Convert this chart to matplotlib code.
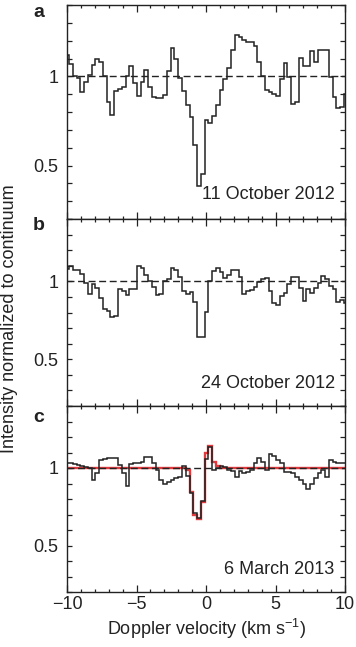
import numpy as np
import matplotlib
matplotlib.use("Agg")
import matplotlib.pyplot as plt
from matplotlib.ticker import MultipleLocator, FixedLocator

plt.rcParams['font.family'] = ['Liberation Sans', 'DejaVu Sans']
plt.rcParams['axes.unicode_minus'] = True

# velocity bin grid (km/s)
bin_start = -10.127
bin_width = 0.271
n_bins = 75
v_edges = bin_start + bin_width * np.arange(n_bins + 1)

panel_letters = ["a", "b", "c"]
dates = ["11 October 2012", "24 October 2012", "6 March 2013"]

spec_a = [1.12, 1.07, 1.00, 0.99, 0.91, 0.97, 1.01, 1.065, 1.10, 1.08, 1.00,
          0.855, 0.785, 0.92, 0.93, 0.94, 1.00, 1.06, 0.965, 0.89, 0.97,
          1.035, 0.94, 0.885, 0.88, 0.88, 0.895, 1.03, 1.16, 1.10, 0.99,
          0.92, 0.84, 0.77, 0.615, 0.385, 0.45, 0.757, 0.74, 0.78, 0.84,
          0.925, 0.985, 1.047, 1.145, 1.232, 1.22, 1.205, 1.195, 1.195, 1.17,
          1.08, 1.00, 0.925, 0.91, 0.90, 0.89, 0.985, 1.075, 0.995, 0.845,
          0.855, 1.105, 1.06, 1.06, 1.14, 1.08, 1.145, 1.15, 1.15, 0.995,
          0.885, 0.82, 0.83, 0.90]

spec_b = [1.08, 1.10, 1.07, 1.07, 1.045, 0.99, 0.92, 0.985, 0.955, 0.89, 0.82,
          0.81, 0.77, 0.78, 0.95, 0.935, 0.915, 0.95, 0.95, 1.10, 1.085,
          1.04, 1.00, 0.965, 0.91, 0.92, 1.00, 1.015, 1.085, 1.075, 1.03,
          0.935, 0.92, 0.93, 0.87, 0.64, 0.64, 0.806, 1.00, 1.065, 1.086,
          1.06, 1.02, 1.043, 1.07, 1.07, 1.03, 0.92, 0.935, 0.946, 0.963,
          0.996, 1.015, 1.02, 0.935, 0.86, 0.845, 0.903, 0.925, 0.98, 1.03,
          1.03, 0.96, 0.875, 0.95, 0.925, 0.96, 0.99, 1.035, 1.015, 0.97,
          0.95, 0.87, 0.88, 0.86]

spec_c = [1.03, 1.03, 1.024, 1.02, 1.013, 1.005, 1.00, 0.923, 0.966, 1.05, 1.055,
          1.062, 1.067, 1.067, 1.02, 0.97, 0.884, 1.024, 1.03, 1.034, 1.037,
          1.073, 1.07, 1.03, 0.987, 0.923, 0.90, 0.91, 0.92, 0.937, 0.944,
          1.01, 0.95, 0.84, 0.71, 0.675, 0.79, 1.06, 1.135, 0.99, 1.00,
          1.01, 1.005, 0.99, 0.983, 0.94, 0.983, 0.966, 0.976, 0.99, 1.03,
          1.062, 1.04, 0.987, 1.09, 1.077, 1.05, 1.03, 0.976, 0.972, 0.966,
          0.944, 0.923, 0.90, 0.865, 0.90, 0.933, 0.966, 0.99, 0.944, 1.05,
          1.04, 1.03, 1.03, 1.03]

model_c = [1.0, 1.0, 1.0, 1.0, 1.0, 1.0, 1.0, 1.0, 1.0, 1.0, 1.0,
           1.0, 1.0, 1.0, 1.0, 1.0, 1.0, 1.0, 1.0, 1.0, 1.0,
           1.0, 1.0, 1.0, 1.0, 1.0, 1.0, 1.0, 1.0, 1.0, 1.0,
           1.0, 0.987, 0.847, 0.70, 0.67, 0.78, 1.10, 1.142, 1.04, 1.015,
           1.0, 1.0, 1.0, 1.0, 1.0, 1.0, 1.0, 1.0, 1.0, 1.0,
           1.0, 1.0, 1.0, 1.0, 1.0, 1.0, 1.0, 1.0, 1.0, 1.0,
           1.0, 1.0, 1.0, 1.0, 1.0, 1.0, 1.0, 1.0, 1.0, 1.0,
           1.0, 1.0, 1.0, 1.0]

spectra = [spec_a, spec_b, spec_c]

W, H = 356, 647
fig = plt.figure(figsize=(W / 100, H / 100), dpi=100)

# axes boxes in pixels: (top, bottom)
boxes = [(5, 219), (219, 406), (406, 592)]
left_px, right_px = 67, 345
letter_baselines = [17, 230, 422]

ink = '#222222'
red = '#e03a3e'
fs = 13

axes = []
for i, (top, bot) in enumerate(boxes):
    ax = fig.add_axes([left_px / W, (H - bot) / H, (right_px - left_px) / W, (bot - top) / H])
    axes.append(ax)
    ax.set_xlim(-10, 10)
    ax.set_ylim(0.2, 1.4)
    if i == 2:
        ax.stairs(model_c, v_edges, color=red, lw=1.7, baseline=None, zorder=2)
    ax.axhline(1.0, color=ink, lw=1.0, ls=(0, (5, 2.6)), zorder=3)
    ax.stairs(spectra[i], v_edges, color=ink, lw=1.1, baseline=None, zorder=4)

    ax.yaxis.set_major_locator(FixedLocator([0.5, 1.0]))
    ax.set_yticklabels(['0.5', '1'])
    ax.yaxis.set_minor_locator(MultipleLocator(0.1))
    ax.xaxis.set_major_locator(MultipleLocator(5))
    ax.xaxis.set_minor_locator(MultipleLocator(1))
    ax.tick_params(axis='both', which='both', direction='in', top=True, right=True,
                   color=ink, width=0.9, labelsize=fs, labelcolor=ink)
    ax.tick_params(axis='y', which='both', length=3.5, pad=6)
    ax.tick_params(axis='x', which='major', length=5, pad=3)
    ax.tick_params(axis='x', which='minor', length=2.5)
    if i < 2:
        ax.tick_params(axis='x', labelbottom=False)
    for s in ax.spines.values():
        s.set_color(ink)
        s.set_linewidth(1.0)

    ax.text(0.963, 0.075, dates[i], transform=ax.transAxes, ha='right', va='bottom',
            fontsize=fs, color=ink)
    fig.text(33 / W, (H - letter_baselines[i]) / H, panel_letters[i], ha='left',
             va='baseline', fontsize=14, fontweight='bold', color=ink)

axes[2].set_xticks([-10, -5, 0, 5, 10])
axes[2].set_xticklabels(['\u221210', '\u22125', '0', '5', '10'])

fig.text(0.028, 0.507, 'Intensity normalized to continuum', rotation=90,
         ha='center', va='center', fontsize=fs, color=ink)
fig.text(206 / W, 0.028, 'Doppler velocity (km s$^{\\mathregular{-1}}$)', ha='center',
         va='center', fontsize=fs, color=ink)

fig.savefig('out.png', dpi=100)
